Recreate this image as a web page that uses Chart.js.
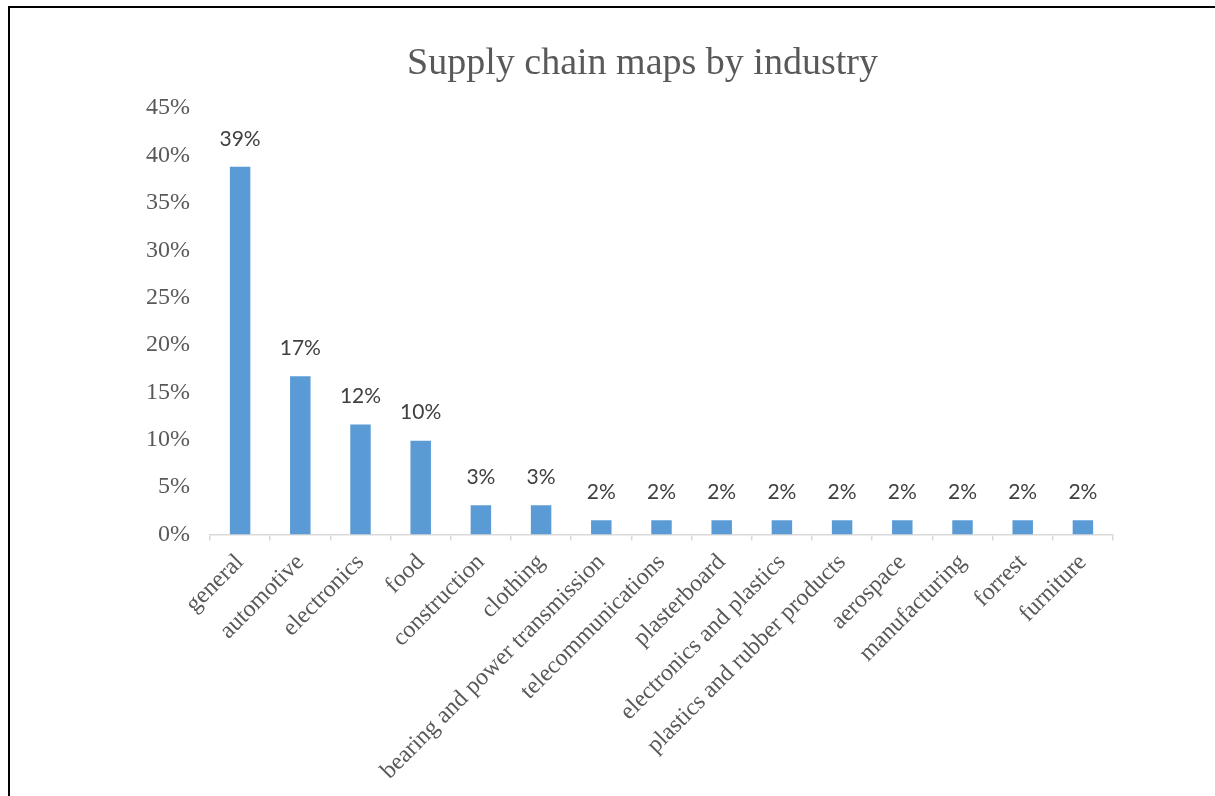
<!DOCTYPE html>
<html>
<head>
<meta charset="utf-8">
<title>Supply chain maps by industry</title>
<script src="https://cdn.jsdelivr.net/npm/chart.js@4.4.1/dist/chart.umd.min.js"></script>
<style>
	html, body {
		margin: 0;
		padding: 0;
		background: #fff;
		overflow: hidden;
	}
	#wrapper-supply-chain {
		position: absolute;
		left: 0;
		top: 0;
		width: 1215px;
		height: 796px;
	}
	#frame {
		position: absolute;
		left: 8px;
		top: 6px;
		right: 0;
		bottom: 0;
		border-left: 2px solid #000;
		border-top: 2px solid #000;
		pointer-events: none;
	}
</style>
</head>
<body>
<div id="wrapper-supply-chain">
	<canvas id="bc-supply-chain"></canvas>
</div>
<div id="frame"></div>

<script>
// Share of supply chain maps per industry (%)
const industries = [
	"general",
	"automotive",
	"electronics",
	"food",
	"construction",
	"clothing",
	"bearing and power transmission",
	"telecommunications",
	"plasterboard",
	"electronics and plastics",
	"plastics and rubber products",
	"aerospace",
	"manufacturing",
	"forrest",
	"furniture",
];
const shares = [38.8, 16.7, 11.6, 9.9, 3.1, 3.1, 1.5, 1.5, 1.5, 1.5, 1.5, 1.5, 1.5, 1.5, 1.5];
const yTicks = [0, 5, 10, 15, 20, 25, 30, 35, 40, 45];

const serif = "'Liberation Serif', 'Times New Roman', serif";

// Percent labels above each bar
const barValueLabels = {
	id: "barValueLabels",
	afterDatasetsDraw(chart) {
		const ctx = chart.ctx;
		const meta = chart.getDatasetMeta(0);
		const data = chart.data.datasets[0].data;

		ctx.save();
		ctx.font = "21px Lato, 'Open Sans', sans-serif";
		ctx.fillStyle = "#404040";
		ctx.textAlign = "center";
		ctx.textBaseline = "middle";
		meta.data.forEach((bar, i) => {
			ctx.fillText(Math.round(data[i]) + "%", bar.x, bar.y - 28);
		});
		ctx.restore();
	},
};

// The title sits centred over the whole frame, not over the padded layout box
const widenTitle = {
	id: "widenTitle",
	afterLayout(chart) {
		if (!chart.titleBlock) return;
		chart.titleBlock.left = 70;
		chart.titleBlock.right = chart.width;
		chart.titleBlock.width = chart.width - 70;
	},
};

let ctx = document.getElementById("bc-supply-chain").getContext("2d");

let barChart = new Chart(ctx, {
	type: "bar",
	data: {
		labels: industries,
		datasets: [
			{
				data: shares,
				backgroundColor: "#5B9BD5",
				borderWidth: 0,
				categoryPercentage: 1,
				barPercentage: 0.34,
			},
		],
	},
	options: {
		responsive: true,
		maintainAspectRatio: false,
		animation: false,
		layout: {
			padding: { left: 0, right: 102, top: 0, bottom: 0 },
		},
		scales: {
			x: {
				grid: {
					display: true,
					offset: true,
					drawOnChartArea: false,
					drawTicks: true,
					tickLength: 6,
					color: "#D9D9D9",
					lineWidth: 1.5,
				},
				border: { display: true, color: "#D9D9D9", width: 1.5 },
				ticks: {
					minRotation: 45,
					maxRotation: 45,
					autoSkip: false,
					padding: 8,
					color: "#595959",
					font: { family: serif, size: 24 },
				},
				afterFit: (scale) => {
					scale.height = 261.5;
				},
			},
			y: {
				min: 0,
				max: 45,
				grid: { display: false, drawTicks: false },
				border: { display: false },
				afterBuildTicks: (scale) => {
					scale.ticks = yTicks.map((v) => ({ value: v }));
				},
				ticks: {
					padding: 20,
					color: "#595959",
					font: { family: serif, size: 24 },
					callback: (v) => v + "%",
				},
				afterFit: (scale) => {
					scale.width = 210;
				},
			},
		},
		plugins: {
			title: {
				display: true,
				text: "Supply chain maps by industry",
				color: "#595959",
				font: { family: serif, size: 38, weight: "normal", lineHeight: 1.2 },
				padding: { top: 41, bottom: 21.5 },
			},
			legend: { display: false },
			tooltip: { enabled: false },
		},
	},
	plugins: [barValueLabels, widenTitle],
});
</script>
</body>
</html>
